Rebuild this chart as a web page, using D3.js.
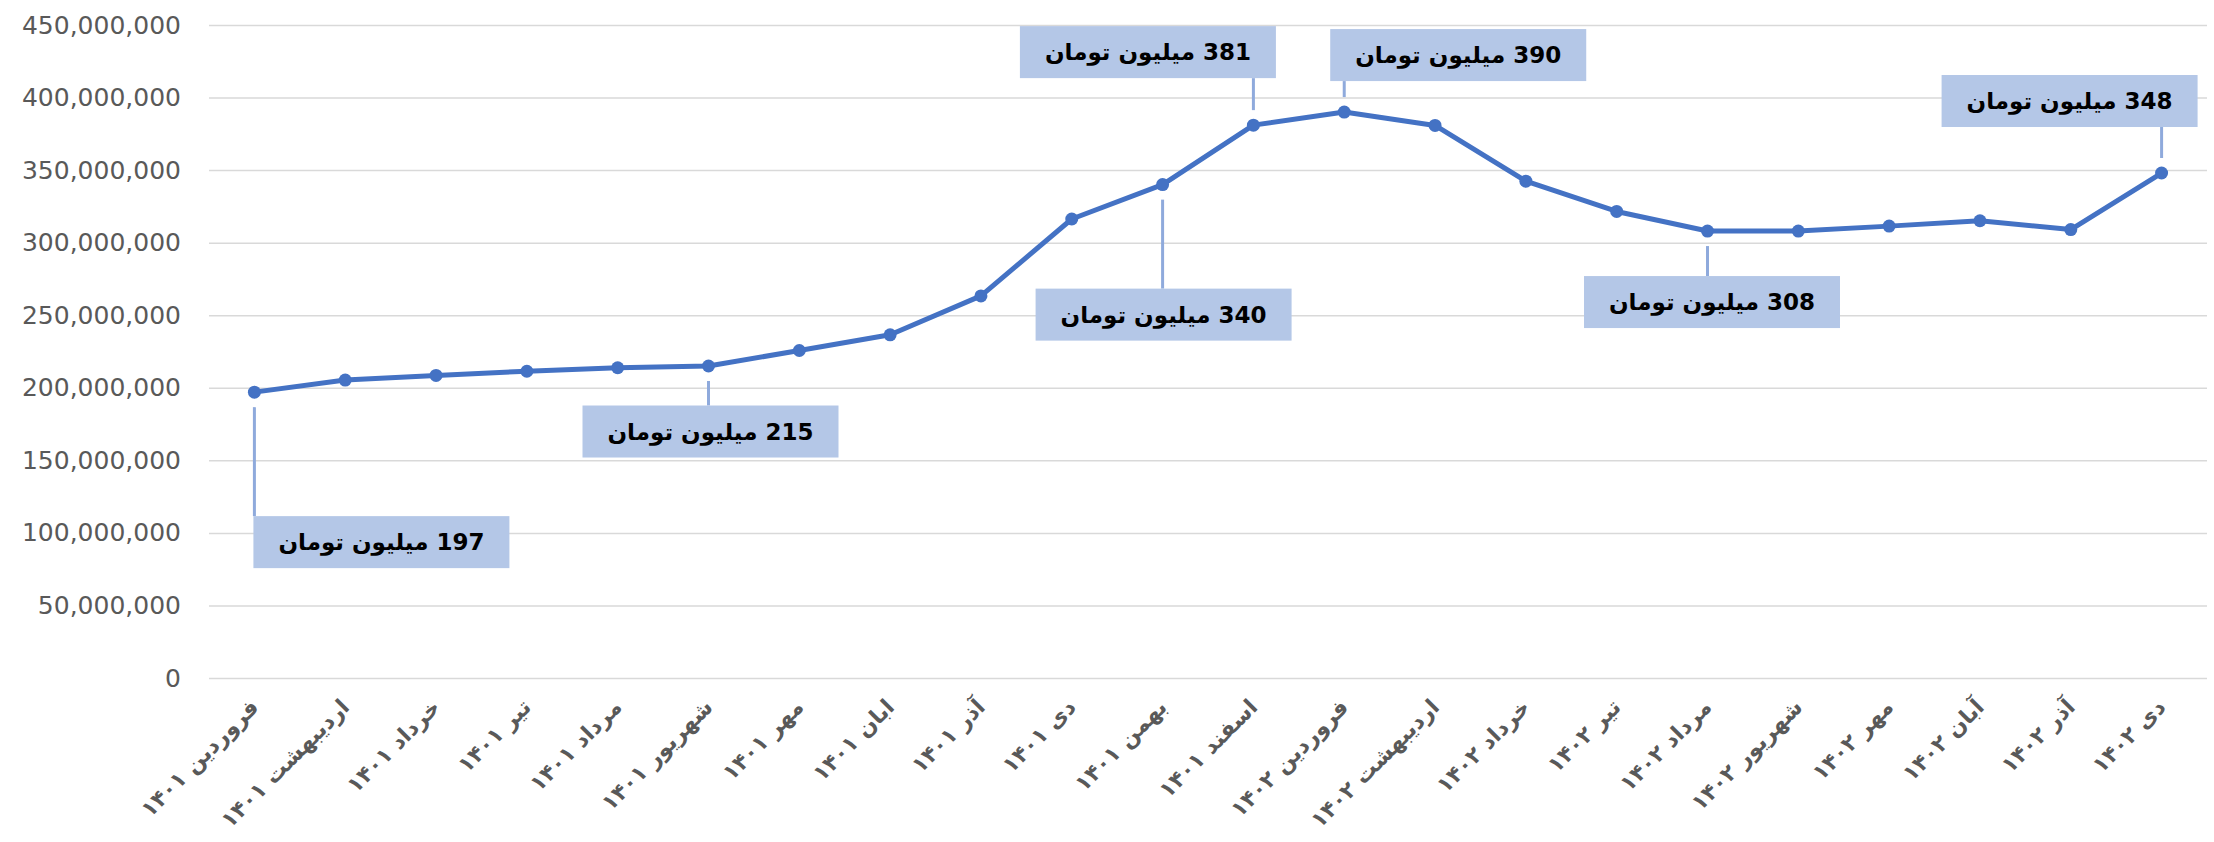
<!DOCTYPE html>
<html><head><meta charset="utf-8">
<script src="https://cdn.jsdelivr.net/npm/d3@7"></script>
<style>body{margin:0;background:#fff;} svg{display:block}</style>
</head><body>
<svg id="chart" width="2214" height="842"></svg>
<script>
// ---------- DATA ----------
const categories = ["فروردین ۱۴۰۱", "اردیبهشت ۱۴۰۱", "خرداد ۱۴۰۱", "تیر ۱۴۰۱", "مرداد ۱۴۰۱", "شهریور ۱۴۰۱", "مهر ۱۴۰۱", "ابان ۱۴۰۱", "آذر ۱۴۰۱", "دی ۱۴۰۱", "بهمن ۱۴۰۱", "اسفند ۱۴۰۱", "فروردین ۱۴۰۲", "اردیبهشت ۱۴۰۲", "خرداد ۱۴۰۲", "تیر ۱۴۰۲", "مرداد ۱۴۰۲", "شهریور ۱۴۰۲", "مهر ۱۴۰۲", "آبان ۱۴۰۲", "آذر ۱۴۰۲", "دی ۱۴۰۲"];
const values = [197000000, 205300000, 208500000, 211400000, 213800000, 215000000, 225700000, 236500000, 263300000, 316300000, 340000000, 381000000, 390000000, 380800000, 342400000, 321500000, 308000000, 308000000, 311400000, 315100000, 309000000, 348000000];
const yTicks = [0, 50000000, 100000000, 150000000, 200000000, 250000000, 300000000, 350000000, 400000000, 450000000];
const calloutIndex = [0, 5, 10, 11, 12, 16, 21];
const calloutText = ["197 میلیون تومان", "215 میلیون تومان", "340 میلیون تومان", "381 میلیون تومان", "390 میلیون تومان", "308 میلیون تومان", "348 میلیون تومان"];

// ---------- LAYOUT ----------
const W = 2214, H = 842;
const plot = {left: 209, right: 2207, top: 25, bottom: 678};
// callout box centre offsets relative to their data point (px)
const calloutOffset = [[127, 150], [2, 65.5], [1, 130], [-105.5, -73], [114, -57], [4.5, 71], [-92, -72]];
const boxW = 256, boxH = 52, leaderGap = 15;
const lineColor = "#4472c4", gridColor = "#d9d9d9", labelColor = "#595959";
const boxFill = "#b4c7e7", leaderColor = "#8faadc";

const svg = d3.select("#chart");
svg.append("rect").attr("width", W).attr("height", H).attr("fill", "#fff");

const x = d3.scaleBand().domain(categories).range([plot.left, plot.right]).paddingInner(0).paddingOuter(0);
const cx = c => x(c) + x.bandwidth() / 2;
const y = d3.scaleLinear().domain([0, 450000000]).range([plot.bottom, plot.top]);

// Y axis + gridlines
const yAxis = svg.append("g").attr("transform", `translate(${plot.left},0)`)
  .call(d3.axisLeft(y).tickValues(yTicks).tickFormat(d3.format(","))
    .tickSize(-(plot.right - plot.left)).tickPadding(28));
yAxis.select(".domain").remove();
yAxis.selectAll(".tick line").attr("stroke", gridColor).attr("stroke-width", 1.5);
yAxis.selectAll(".tick text").attr("fill", labelColor)
  .style("font-family", "DejaVu Sans, sans-serif").style("font-size", "25px");

// X axis labels
const xAxis = svg.append("g").attr("transform", `translate(0,${plot.bottom})`)
  .call(d3.axisBottom(x).tickSize(0).tickPadding(0));
xAxis.select(".domain").remove();
xAxis.selectAll(".tick text")
  .attr("fill", labelColor)
  .style("font-family", "DejaVu Sans, sans-serif").style("font-size", "22px").style("font-weight", "bold")
  .attr("text-anchor", "end")
  .attr("x", 0).attr("y", 0).attr("dy", "0.35em")
  .attr("transform", "translate(0,25) rotate(-45)");

// Line
const pts = categories.map((c, i) => ({c, v: values[i]}));
svg.append("path").datum(pts)
  .attr("fill", "none").attr("stroke", lineColor).attr("stroke-width", 5)
  .attr("stroke-linejoin", "round").attr("stroke-linecap", "round")
  .attr("d", d3.line().x(d => cx(d.c)).y(d => y(d.v)));
svg.append("g").selectAll("circle").data(pts).join("circle")
  .attr("cx", d => cx(d.c)).attr("cy", d => y(d.v)).attr("r", 6.5).attr("fill", lineColor);

// Callouts
const callouts = calloutIndex.map((idx, k) => ({
  px: cx(categories[idx]), py: y(values[idx]), text: calloutText[k],
  bx: cx(categories[idx]) + calloutOffset[k][0], by: y(values[idx]) + calloutOffset[k][1]
}));
const cg = svg.append("g");
callouts.forEach(d => {
  const below = d.by > d.py;
  const y1 = below ? d.py + leaderGap : d.py - leaderGap;
  const y2 = below ? d.by - boxH / 2 : d.by + boxH / 2;
  cg.append("line").attr("x1", d.px).attr("x2", d.px).attr("y1", y1).attr("y2", y2)
    .attr("stroke", leaderColor).attr("stroke-width", 3);
  cg.append("rect").attr("x", d.bx - boxW / 2).attr("y", d.by - boxH / 2)
    .attr("width", boxW).attr("height", boxH).attr("fill", boxFill);
  cg.append("text").attr("x", d.bx).attr("y", d.by).attr("dy", "0.35em")
    .attr("text-anchor", "middle").attr("direction", "rtl").style("direction", "rtl")
    .style("font-family", "DejaVu Sans, sans-serif").style("font-size", "23px").style("font-weight", "bold")
    .attr("fill", "#000").text(d.text);
});
</script>
</body></html>
